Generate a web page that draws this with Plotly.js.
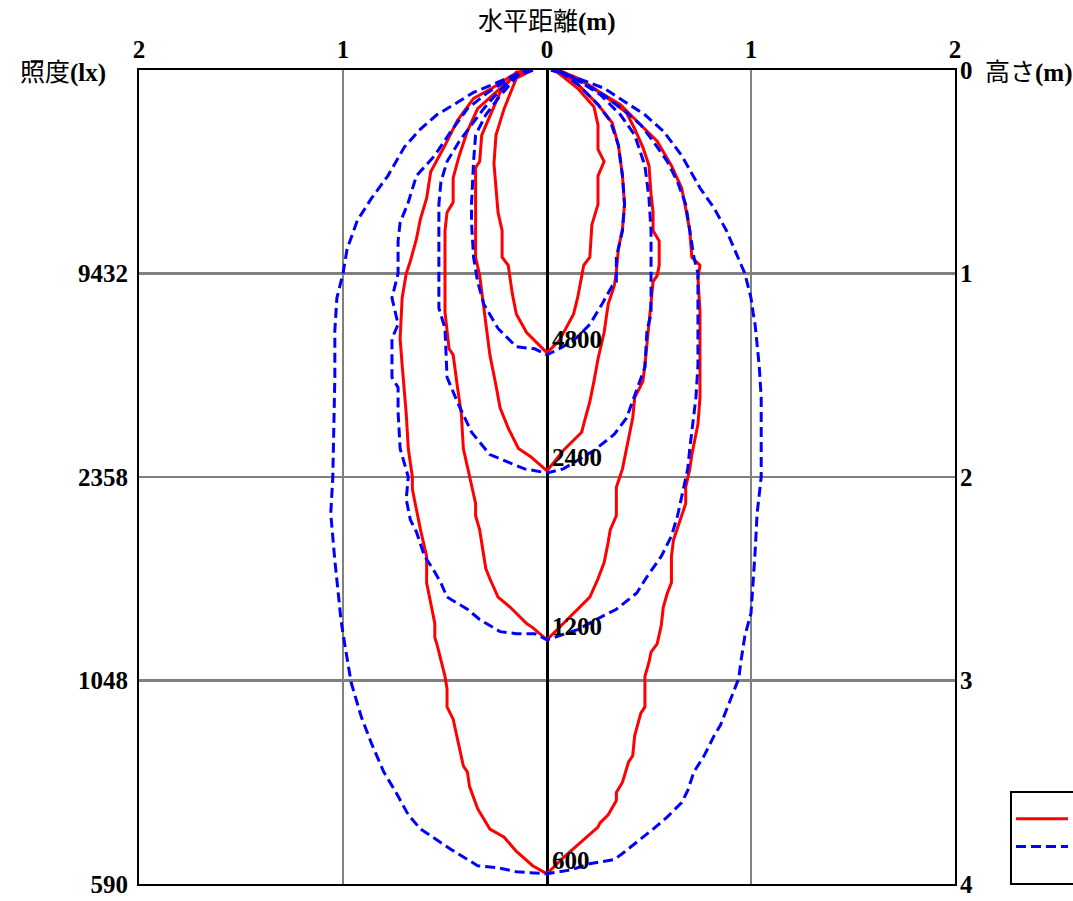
<!DOCTYPE html>
<html>
<head>
<meta charset="utf-8">
<script src="https://cdn.plot.ly/plotly-3.0.1.min.js"></script>
<style>html,body{margin:0;padding:0;background:#fff;}</style>
</head>
<body>
<div id="chart" style="width:1073px;height:901px;"></div>
<script>
// Axis tick labels
const xTickVals = [-2, -1, 0, 1, 2];
const xTickText = ['2', '1', '0', '1', '2'];
const heightVals = [0, 1, 2, 3, 4];
const heightText = ['0', '1', '2', '3', '4'];
const illumVals = [1, 2, 3, 4];
const illumText = ['9432', '2358', '1048', '590'];

// Series names and contour levels
const seriesNames = ['実測値', '計算値'];
const levelLabels = ['4800', '2400', '1200', '600'];

// Red (solid) contours: horizontal distance (m) / height (m)
const red4800X = [-0.07,-0.15,-0.21,-0.25,-0.26,-0.24,-0.22,-0.22,-0.19,-0.17,-0.15,-0.10,0, 0.06,0.13,0.15,0.18,0.21,0.22,0.25,0.25,0.27,0.28,0.25,0.25,0.23,0.15,0.05,0.02];
const red4800Y = [0,0.04,0.19,0.32,0.46,0.70,0.79,0.92,0.96,1.10,1.20,1.29,1.39, 1.33,1.20,1.12,0.96,0.92,0.76,0.66,0.52,0.47,0.45,0.39,0.27,0.18,0.09,0.01,0];

const red2400X = [-0.07,-0.15,-0.23,-0.27,-0.32,-0.33,-0.35,-0.35,-0.35,-0.33,-0.32,-0.30,-0.28,-0.25,-0.23,-0.19,-0.14,-0.08,0, 0.08,0.17,0.18,0.21,0.23,0.25,0.28,0.30,0.33,0.34,0.35,0.37,0.38,0.37,0.35,0.32,0.25,0.15,0.06,0.02];
const red2400Y = [0,0.01,0.11,0.20,0.32,0.45,0.48,0.71,0.92,1.01,1.09,1.25,1.40,1.55,1.66,1.76,1.86,1.90,1.97, 1.87,1.78,1.74,1.63,1.53,1.42,1.29,1.15,1.06,0.99,0.88,0.78,0.66,0.52,0.37,0.26,0.17,0.07,0,0];

const red1200X = [-0.07,-0.16,-0.24,-0.34,-0.39,-0.43,-0.46,-0.46,-0.49,-0.50,-0.50,-0.50,-0.48,-0.46,-0.44,-0.42,-0.41,-0.38,-0.35,-0.35,-0.33,-0.30,-0.28,-0.24,-0.18,-0.10,-0.07,0, 0.05,0.13,0.21,0.25,0.27,0.28,0.30,0.31,0.34,0.34,0.34,0.37,0.38,0.42,0.43,0.47,0.48,0.50,0.51,0.52,0.54,0.55,0.55,0.52,0.52,0.51,0.50,0.47,0.43,0.39,0.30,0.20,0.08,0.02];
const red1200Y = [0,0.03,0.10,0.19,0.30,0.42,0.53,0.65,0.70,0.79,1.00,1.19,1.37,1.40,1.55,1.69,1.86,2.00,2.13,2.19,2.26,2.45,2.50,2.59,2.64,2.72,2.74,2.80, 2.75,2.67,2.59,2.50,2.45,2.42,2.32,2.26,2.19,2.11,2.05,1.96,1.91,1.71,1.61,1.53,1.45,1.25,1.12,1.04,1.01,0.96,0.84,0.79,0.70,0.61,0.47,0.38,0.29,0.21,0.14,0.07,0.01,0];

const red600X = [-0.07,-0.16,-0.27,-0.36,-0.44,-0.50,-0.57,-0.59,-0.62,-0.64,-0.67,-0.69,-0.71,-0.72,-0.71,-0.69,-0.68,-0.66,-0.66,-0.62,-0.59,-0.59,-0.55,-0.55,-0.54,-0.50,-0.49,-0.49,-0.46,-0.43,-0.41,-0.39,-0.38,-0.34,-0.28,-0.21,-0.15,-0.07,0, 0.08,0.18,0.25,0.26,0.30,0.34,0.34,0.37,0.40,0.42,0.43,0.46,0.48,0.48,0.48,0.50,0.51,0.54,0.56,0.57,0.59,0.61,0.61,0.62,0.66,0.68,0.68,0.70,0.71,0.74,0.75,0.75,0.75,0.74,0.75,0.71,0.70,0.68,0.66,0.61,0.54,0.46,0.36,0.26,0.15,0.05,0.02];
const red600Y = [0,0.02,0.09,0.14,0.25,0.37,0.50,0.63,0.73,0.83,0.94,1.00,1.12,1.32,1.45,1.69,1.86,2.00,2.06,2.26,2.39,2.52,2.72,2.79,2.82,2.98,3.04,3.13,3.19,3.32,3.42,3.45,3.52,3.63,3.73,3.77,3.84,3.91,3.95, 3.87,3.78,3.72,3.70,3.66,3.59,3.55,3.50,3.40,3.37,3.27,3.16,3.13,3.04,2.98,2.91,2.86,2.82,2.73,2.64,2.57,2.52,2.39,2.31,2.19,2.13,2.05,1.96,1.89,1.74,1.61,1.42,1.19,1.02,0.96,0.92,0.79,0.68,0.58,0.47,0.35,0.27,0.17,0.11,0.04,0,0];

// Blue (dashed) contours
const blue4800X = [-0.07,-0.13,-0.24,-0.30,-0.35,-0.36,-0.37,-0.37,-0.36,-0.34,-0.31,-0.24,-0.15,-0.06,0, 0.06,0.13,0.21,0.27,0.32,0.34,0.34,0.37,0.38,0.37,0.35,0.31,0.25,0.15,0.05,0.02];
const blue4800Y = [0,0.01,0.14,0.22,0.32,0.45,0.66,0.75,0.92,1.04,1.15,1.27,1.36,1.37,1.40, 1.37,1.33,1.25,1.15,1.06,1.04,0.92,0.79,0.66,0.52,0.37,0.25,0.17,0.07,0,0];

const blue2400X = [-0.07,-0.15,-0.24,-0.31,-0.37,-0.43,-0.49,-0.52,-0.53,-0.53,-0.53,-0.50,-0.49,-0.44,-0.37,-0.28,-0.11,0, 0.08,0.23,0.33,0.39,0.42,0.45,0.48,0.49,0.51,0.51,0.51,0.50,0.48,0.43,0.36,0.26,0.15,0.05,0.02];
const blue2400Y = [0,0.02,0.11,0.19,0.27,0.35,0.45,0.55,0.66,1.00,1.17,1.27,1.51,1.63,1.78,1.89,1.96,1.98, 1.96,1.87,1.79,1.71,1.63,1.55,1.46,1.28,1.20,1.04,0.79,0.63,0.47,0.32,0.22,0.12,0.05,0,0];

const blue1200X = [-0.07,-0.18,-0.29,-0.39,-0.47,-0.55,-0.64,-0.68,-0.72,-0.73,-0.73,-0.76,-0.73,-0.76,-0.76,-0.73,-0.73,-0.72,-0.68,-0.69,-0.67,-0.64,-0.61,-0.60,-0.56,-0.52,-0.49,-0.44,-0.39,-0.33,-0.23,-0.15,-0.06,0, 0.15,0.28,0.34,0.44,0.49,0.56,0.61,0.64,0.67,0.69,0.70,0.73,0.74,0.74,0.74,0.72,0.70,0.68,0.64,0.59,0.52,0.46,0.38,0.26,0.15,0.05,0.02];
const blue1200Y = [0,0.04,0.11,0.19,0.30,0.42,0.52,0.65,0.75,0.84,1.00,1.12,1.25,1.32,1.51,1.56,1.68,1.86,2.00,2.11,2.21,2.27,2.36,2.39,2.45,2.52,2.59,2.62,2.65,2.70,2.76,2.77,2.77,2.80, 2.75,2.68,2.65,2.57,2.49,2.39,2.29,2.19,2.06,1.96,1.86,1.61,1.45,1.20,1.00,0.92,0.79,0.66,0.55,0.45,0.35,0.27,0.20,0.11,0.05,0,0];

const blue600X = [-0.07,-0.11,-0.24,-0.36,-0.44,-0.54,-0.62,-0.70,-0.78,-0.86,-0.93,-0.98,-1.00,-1.03,-1.04,-1.04,-1.05,-1.06,-1.04,-1.03,-1.01,-1.00,-0.98,-0.96,-0.91,-0.86,-0.80,-0.74,-0.68,-0.62,-0.47,-0.34,-0.24,-0.15,0, 0.12,0.21,0.33,0.37,0.46,0.52,0.59,0.66,0.69,0.72,0.77,0.82,0.85,0.88,0.92,0.94,0.95,0.97,1.00,1.01,1.02,1.03,1.05,1.05,1.05,1.04,1.02,1.01,1.00,0.97,0.93,0.88,0.82,0.75,0.66,0.57,0.48,0.39,0.28,0.15,0.02];
const blue600Y = [0,0.005,0.06,0.11,0.16,0.22,0.29,0.38,0.52,0.63,0.74,0.88,1.00,1.12,1.28,1.51,2.00,2.18,2.41,2.52,2.70,2.77,2.90,3.01,3.18,3.31,3.45,3.55,3.66,3.73,3.83,3.91,3.92,3.94,3.95, 3.93,3.90,3.88,3.85,3.78,3.73,3.67,3.60,3.54,3.45,3.37,3.27,3.22,3.14,3.04,2.99,2.91,2.78,2.67,2.54,2.37,2.18,2.00,1.82,1.61,1.45,1.25,1.19,1.12,1.00,0.91,0.79,0.68,0.58,0.42,0.30,0.22,0.16,0.09,0.04,0];

const redSets = [[red4800X, red4800Y], [red2400X, red2400Y], [red1200X, red1200Y], [red600X, red600Y]];
const blueSets = [[blue4800X, blue4800Y], [blue2400X, blue2400Y], [blue1200X, blue1200Y], [blue600X, blue600Y]];

const SERIF = "'Liberation Serif', 'DejaVu Serif', serif";
const MIXED = "'Liberation Serif', 'Noto Sans CJK JP', serif";
const numFont = {family: SERIF, size: 25, weight: 'bold', color: '#000'};

const traces = [];
redSets.forEach((s, i) => {
  traces.push({
    x: s[0], y: s[1], type: 'scatter', mode: 'lines',
    line: {color: '#ff0000', width: 3},
    name: seriesNames[0], showlegend: i === 0,
    hoverinfo: 'skip'
  });
});
blueSets.forEach((s, i) => {
  traces.push({
    x: s[0], y: s[1], type: 'scatter', mode: 'lines',
    line: {color: '#0000ff', width: 3, dash: '10px,5px'},
    name: seriesNames[1], showlegend: i === 0,
    hoverinfo: 'skip'
  });
});
// carrier for the right (height) axis
traces.push({x: [0], y: [0], yaxis: 'y2', type: 'scatter', mode: 'none', showlegend: false, hoverinfo: 'skip'});

const annotations = [
  {text: '水平距離<b>(m)</b>', xref: 'paper', yref: 'paper', x: 0.5, y: 1.059, xanchor: 'center', yanchor: 'middle', showarrow: false, font: {family: MIXED, size: 25, color: '#000'}},
  {text: '照度<b>(lx)</b>', xref: 'paper', yref: 'paper', x: -0.148, y: 0.996, xanchor: 'left', yanchor: 'middle', showarrow: false, font: {family: MIXED, size: 25, color: '#000'}},
  {text: '高さ<b>(m)</b>', xref: 'paper', yref: 'paper', x: 1.034, y: 0.996, xanchor: 'left', yanchor: 'middle', showarrow: false, font: {family: MIXED, size: 25, color: '#000'}}
];
redSets.forEach((s, i) => {
  const yb = Math.max.apply(null, s[1]);
  annotations.push({text: levelLabels[i], x: 0, y: yb, xref: 'x', yref: 'y', xanchor: 'left', yanchor: 'bottom', xshift: 3, yshift: -2, showarrow: false, font: {family: SERIF, size: 25, weight: 'bold', color: '#000'}});
});

const layout = {
  width: 1073, height: 901,
  margin: {l: 139, r: 118, t: 70, b: 17, autoexpand: false},
  paper_bgcolor: '#fff', plot_bgcolor: '#fff',
  showlegend: true,
  legend: {x: 1.0686, xanchor: 'left', y: 0.1032, yanchor: 'top', borderwidth: 0, bgcolor: 'rgba(0,0,0,0)',
           itemwidth: 52, tracegroupgap: 0, font: {family: "'Noto Sans CJK JP'", size: 19, color: '#000'}},
  shapes: [
    {type: 'rect', xref: 'paper', yref: 'paper', x0: 1.0686, x1: 1.35, y0: 0, y1: 0.113, line: {color: '#000', width: 2}, fillcolor: 'rgba(0,0,0,0)', layer: 'above'}
  ],
  xaxis: {range: [-2, 2], side: 'top', tickvals: xTickVals, ticktext: xTickText, showgrid: true, gridcolor: '#808080', gridwidth: 2.5,
          zeroline: true, zerolinecolor: '#000', zerolinewidth: 3, showline: true, linecolor: '#000', linewidth: 2, mirror: true,
          ticks: '', tickfont: numFont, ticklabelstandoff: 0, fixedrange: true},
  yaxis: {range: [4, 0], tickvals: illumVals, ticktext: illumText, showgrid: true, gridcolor: '#808080', gridwidth: 2.5,
          zeroline: false, showline: true, linecolor: '#000', linewidth: 2, mirror: true, ticks: '', tickfont: numFont, ticklabelstandoff: 4, fixedrange: true},
  yaxis2: {range: [4, 0], overlaying: 'y', side: 'right', tickvals: heightVals, ticktext: heightText, showgrid: false, zeroline: false,
           showline: false, ticks: '', tickfont: numFont, ticklabelstandoff: 4, fixedrange: true},
  annotations: annotations
};

Plotly.newPlot('chart', traces, layout, {displayModeBar: false, staticPlot: true});
</script>
</body>
</html>
